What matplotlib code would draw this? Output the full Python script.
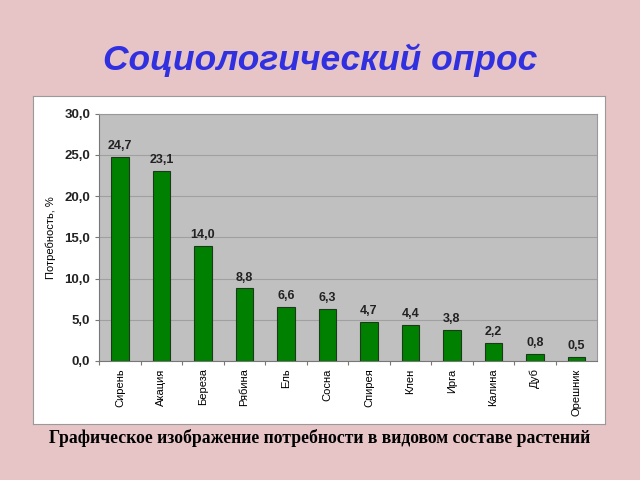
import matplotlib.pyplot as plt

plants = ["Сирень", "Акация", "Береза", "Рябина", "Ель", "Сосна",
          "Спирея", "Клен", "Ирга", "Калина", "Дуб", "Орешник"]
need = [24.7, 23.1, 14.0, 8.8, 6.6, 6.3, 4.7, 4.4, 3.8, 2.2, 0.8, 0.5]
y_ticks = [0, 5, 10, 15, 20, 25, 30]

plt.rcParams['font.family'] = ['Liberation Sans', 'DejaVu Sans']

fig = plt.figure(figsize=(6.4, 4.8), dpi=100)
fig.patch.set_facecolor('#e7c4c5')

# white chart panel behind the plot
panel = fig.add_axes([0.052, 0.117, 0.893, 0.683])
panel.set_facecolor('white')
panel.set_xticks([])
panel.set_yticks([])
for s in panel.spines.values():
    s.set_color('#9a9a9a')

fig.text(0.5, 0.875, "Социологический опрос", ha='center', va='center',
         fontsize=25.5, fontweight='bold', style='italic', color='#3030e0')
fig.text(0.5, 0.087, "Графическое изображение потребности в видовом составе растений",
         ha='center', va='center', fontsize=12.7, fontweight='bold',
         family=['Liberation Serif', 'DejaVu Serif'])

ax = fig.add_axes([0.155, 0.248, 0.778, 0.515])
ax.set_facecolor('#c0c0c0')
x = range(len(plants))
ax.bar(x, need, width=0.42, color='#008000', edgecolor='#1a3a1a', lw=0.8, zorder=3)
for xi, v in zip(x, need):
    ax.text(xi, v + 0.6, f"{v:.1f}".replace('.', ','), ha='center', va='bottom',
            fontsize=9, fontweight='bold', color='#222222')

ax.set_xlim(-0.5, len(plants) - 0.5)
ax.set_ylim(0, 30)
ax.set_yticks(y_ticks)
ax.set_yticklabels([f"{t:.1f}".replace('.', ',') for t in y_ticks],
                   fontsize=9.5, fontweight='bold', color='#222222')
ax.yaxis.grid(True, color='#a0a0a0', lw=0.8, zorder=1)
ax.set_xticks([i + 0.5 for i in range(len(plants) - 1)] + [-0.5])
ax.set_xticklabels([])
ax.tick_params(axis='x', length=3, color='#777777')
ax.tick_params(axis='y', length=3, color='#777777')
for xi, name in zip(x, plants):
    ax.text(xi, -0.9, name, rotation=90, ha='center', va='top', fontsize=8,
            transform=ax.transData)
ax.set_ylabel("Потребность, %", fontsize=8, labelpad=6)

for side in ['top', 'right']:
    ax.spines[side].set_color('#999999')
for side in ['left', 'bottom']:
    ax.spines[side].set_color('#777777')

fig.savefig('out.png', dpi=100, facecolor=fig.get_facecolor())
